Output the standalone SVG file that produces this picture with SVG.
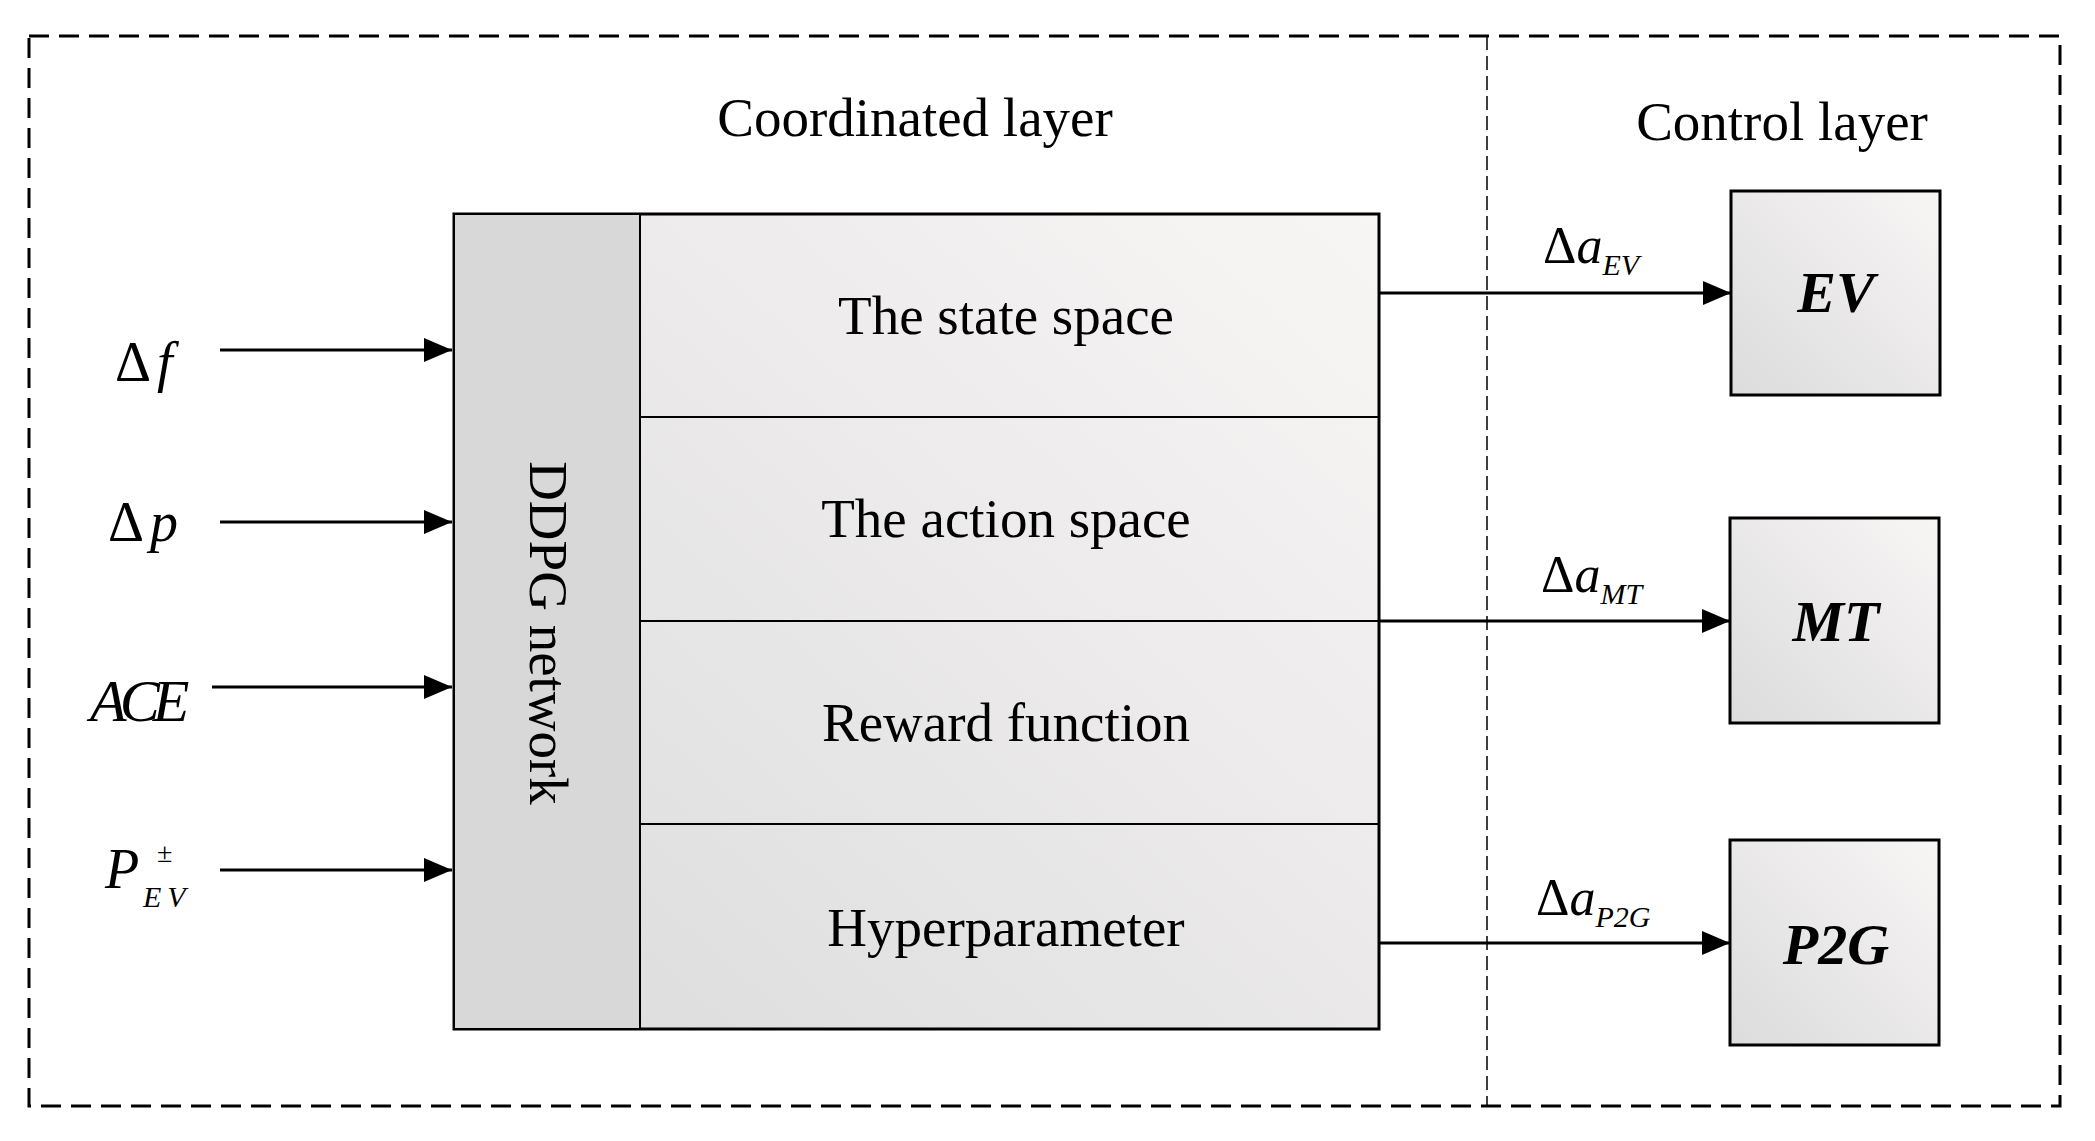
<svg xmlns="http://www.w3.org/2000/svg" width="2095" height="1141" viewBox="0 0 2095 1141">
<defs>
<linearGradient id="g" x1="1" y1="0" x2="0" y2="1"><stop offset="0" stop-color="#f8f5f5"/><stop offset="1" stop-color="#dcdcdc"/></linearGradient>
<marker id="a" viewBox="0 0 10 10" refX="10" refY="5" markerWidth="28" markerHeight="24" markerUnits="userSpaceOnUse" orient="auto" preserveAspectRatio="none"><path d="M0,0 L10,5 L0,10 z" fill="#000"/></marker>
</defs>
<style>
text{font-family:"Liberation Serif","Times New Roman",serif;fill:#000}
.t{font-size:55px;text-anchor:middle}
.b{font-size:58px;font-weight:bold;font-style:italic;text-anchor:middle}
.c{stroke:#000;stroke-width:3;fill:none}
</style>
<rect x="29" y="36" width="2031" height="1070" fill="none" stroke="#000" stroke-width="3" stroke-dasharray="20,10"/>
<line x1="1487" y1="36" x2="1487" y2="1106" stroke="#000" stroke-width="1.5" stroke-dasharray="14,6"/>
<text class="t" x="915" y="136">Coordinated layer</text>
<text class="t" x="1782" y="140">Control layer</text>
<g id="main">
<rect x="454" y="214" width="925" height="815" fill="url(#g)" stroke="#000" stroke-width="3"/>
<rect x="454" y="214" width="186" height="815" fill="#d8d8d8" stroke="#000" stroke-width="2"/>
<line x1="640" y1="417" x2="1379" y2="417" stroke="#000" stroke-width="2"/>
<line x1="640" y1="621" x2="1379" y2="621" stroke="#000" stroke-width="2"/>
<line x1="640" y1="824" x2="1379" y2="824" stroke="#000" stroke-width="2"/>
<text class="t" transform="translate(530,633) rotate(90)">DDPG network</text>
<text class="t" x="1006" y="334">The state space</text>
<text class="t" x="1006" y="537">The action space</text>
<text class="t" x="1006" y="741">Reward function</text>
<text class="t" x="1006" y="946">Hyperparameter</text>
</g>
<g id="ev"><rect x="1731" y="191" width="209" height="204" fill="url(#g)" stroke="#000" stroke-width="3"/><text class="b" x="1836" y="312">EV</text></g>
<g id="mt"><rect x="1730" y="518" width="209" height="205" fill="url(#g)" stroke="#000" stroke-width="3"/><text class="b" x="1836" y="641">MT</text></g>
<g id="p2g"><rect x="1730" y="840" width="209" height="205" fill="url(#g)" stroke="#000" stroke-width="3"/><text class="b" x="1836" y="964">P2G</text></g>
<g id="labels">
<text x="115" y="381" font-size="56">Δ<tspan font-style="italic" dx="6">f</tspan></text>
<text x="108" y="541" font-size="56">Δ<tspan font-style="italic" dx="6">p</tspan></text>
<text x="90" y="721" font-size="60" font-style="italic" letter-spacing="-7">ACE</text>
<text x="105" y="888" font-size="56" font-style="italic">P</text>
<text x="157" y="862" font-size="28">±</text>
<text x="143" y="907" font-size="30" font-style="italic" letter-spacing="6">EV</text>
<text x="1543" y="263" font-size="52">Δ<tspan font-style="italic">a</tspan><tspan font-size="30" font-style="italic" dy="12">EV</tspan></text>
<text x="1541" y="592" font-size="52">Δ<tspan font-style="italic">a</tspan><tspan font-size="30" font-style="italic" dy="12">MT</tspan></text>
<text x="1536" y="915" font-size="52">Δ<tspan font-style="italic">a</tspan><tspan font-size="30" font-style="italic" dy="12">P2G</tspan></text>
</g>
<g id="connectors" class="c">
<line x1="220" y1="350" x2="452" y2="350" marker-end="url(#a)"/>
<line x1="220" y1="522" x2="452" y2="522" marker-end="url(#a)"/>
<line x1="212" y1="687" x2="452" y2="687" marker-end="url(#a)"/>
<line x1="220" y1="870" x2="452" y2="870" marker-end="url(#a)"/>
<line x1="1379" y1="293" x2="1731" y2="293" marker-end="url(#a)"/>
<line x1="1379" y1="621" x2="1730" y2="621" marker-end="url(#a)"/>
<line x1="1379" y1="943" x2="1730" y2="943" marker-end="url(#a)"/>
</g>
</svg>
